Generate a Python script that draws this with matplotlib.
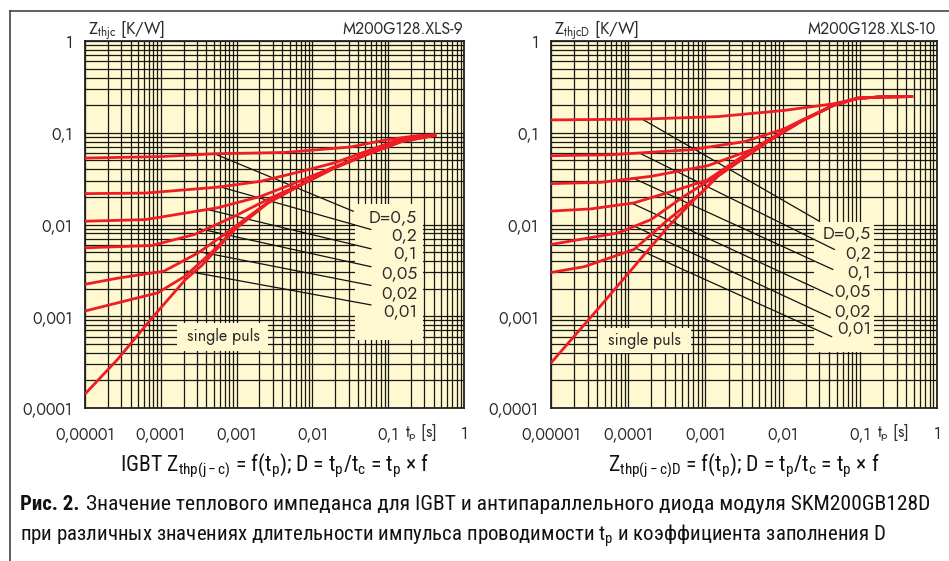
import matplotlib
matplotlib.use('Agg')
import numpy as np
import matplotlib.pyplot as plt
from matplotlib.patches import Rectangle
from matplotlib.lines import Line2D
from matplotlib.ticker import LogLocator, NullFormatter
from matplotlib import font_manager
import matplotlib.transforms as mtrans

# ---------------- data ----------------
x_ticks = [1e-5, 1e-4, 1e-3, 1e-2, 1e-1, 1]
x_tick_labels = ['0,00001', '0,0001', '0,001', '0,01', '0,1', '1']
y_ticks = [1e-4, 1e-3, 1e-2, 1e-1, 1]
y_tick_labels = ['0,0001', '0,001', '0,01', '0,1', '1']
d_labels = ['D=0,5', '0,2', '0,1', '0,05', '0,02', '0,01']

# IGBT (left)
igbt_single_tp = [1e-5, 2.7e-5, 7.6e-5, 2.1e-4, 3.5e-4, 9.4e-4, 2.6e-3, 7.2e-3, 0.0195, 0.052, 0.148, 0.24, 0.43]
igbt_single_z = [1.42e-4, 3.4e-4, 9.5e-4, 0.0025, 0.0036, 0.0088, 0.0172, 0.0272, 0.0413, 0.0577, 0.080, 0.090, 0.094]
igbt_d05_tp = [1e-5, 1e-4, 5.1e-4, 4.3e-3, 0.032, 0.089, 0.24, 0.43]
igbt_d05_z = [0.053, 0.055, 0.059, 0.061, 0.070, 0.083, 0.093, 0.095]
igbt_d02_tp = [1e-5, 6.2e-5, 5.6e-4, 2.1e-3, 7.2e-3, 0.0196, 0.052, 0.148, 0.43]
igbt_d02_z = [0.0217, 0.022, 0.0255, 0.0296, 0.038, 0.047, 0.063, 0.086, 0.095]
igbt_d01_tp = [1e-5, 6.2e-5, 5.6e-4, 2.1e-3, 5.2e-3, 0.0195, 0.052, 0.148, 0.43]
igbt_d01_z = [0.01086, 0.0113, 0.0152, 0.0203, 0.0272, 0.0425, 0.059, 0.082, 0.095]
igbt_d005_tp = [1e-5, 7.6e-5, 2.8e-4, 9.4e-4, 2.9e-3, 7.2e-3, 0.0195, 0.052, 0.148, 0.43]
igbt_d005_z = [0.00557, 0.0059, 0.0078, 0.0123, 0.0197, 0.0276, 0.042, 0.058, 0.081, 0.094]
igbt_d002_tp = [1e-5, 2.7e-5, 1.1e-4, 3.1e-4, 6.9e-4, 2.6e-3, 7.2e-3, 0.0195, 0.052, 0.148, 0.43]
igbt_d002_z = [0.00223, 0.0026, 0.0031, 0.0049, 0.0078, 0.0175, 0.0274, 0.0415, 0.058, 0.080, 0.094]
igbt_d001_tp = [1e-5, 2.7e-5, 9.1e-5, 2.1e-4, 4.7e-4, 9.4e-4, 2.6e-3, 7.2e-3, 0.0195, 0.052, 0.148, 0.43]
igbt_d001_z = [0.00114, 0.0014, 0.0018, 0.00274, 0.0050, 0.0089, 0.0173, 0.0273, 0.0414, 0.0577, 0.080, 0.094]

igbt_lead_x0 = [5.1e-4, 5.7e-4, 4.15e-4, 3.26e-4, 2.95e-4, 2.18e-4]
igbt_lead_y0 = [0.059, 0.0261, 0.01456, 0.00897, 0.00513, 0.00311]
igbt_lead_x1 = [0.0346, 0.0591, 0.0591, 0.0591, 0.0591, 0.0591]
igbt_lead_y1 = [0.01395, 0.00883, 0.00544, 0.00347, 0.00217, 0.00133]

# Diode (right)
diode_single_tp = [1e-5, 4.4e-5, 3.3e-4, 7.2e-4, 1.44e-3, 6.4e-3, 0.0173, 0.046, 0.095, 0.2, 0.49]
diode_single_z = [3.1e-4, 0.0013, 0.0095, 0.0187, 0.0335, 0.080, 0.133, 0.20, 0.238, 0.246, 0.248]
diode_d05_tp = [1e-5, 1.6e-4, 1.46e-3, 0.0104, 0.046, 0.095, 0.2, 0.49]
diode_d05_z = [0.138, 0.141, 0.150, 0.175, 0.207, 0.238, 0.246, 0.248]
diode_d02_tp = [1e-5, 6e-5, 6.5e-4, 3.2e-3, 0.0104, 0.0173, 0.046, 0.095, 0.2, 0.49]
diode_d02_z = [0.0562, 0.0576, 0.0653, 0.080, 0.110, 0.136, 0.20, 0.238, 0.246, 0.248]
diode_d01_tp = [1e-5, 4.4e-5, 1.97e-4, 1.08e-3, 3.9e-3, 0.0104, 0.0173, 0.046, 0.095, 0.2, 0.49]
diode_d01_z = [0.0279, 0.0288, 0.0335, 0.0438, 0.065, 0.105, 0.134, 0.20, 0.238, 0.246, 0.248]
diode_d005_tp = [1e-5, 3.3e-5, 1.19e-4, 4.4e-4, 1.08e-3, 2.6e-3, 6.4e-3, 0.0173, 0.046, 0.095, 0.2, 0.49]
diode_d005_z = [0.014, 0.0148, 0.0172, 0.024, 0.0308, 0.0509, 0.081, 0.133, 0.20, 0.238, 0.246, 0.248]
diode_d002_tp = [1e-5, 7.4e-5, 1.97e-4, 5.3e-4, 1.46e-3, 6.4e-3, 0.0173, 0.046, 0.095, 0.2, 0.49]
diode_d002_z = [0.00606, 0.0081, 0.0113, 0.0203, 0.0349, 0.080, 0.133, 0.20, 0.238, 0.246, 0.248]
diode_d001_tp = [1e-5, 2.7e-5, 1.19e-4, 3.3e-4, 8.8e-4, 1.46e-3, 6.4e-3, 0.0173, 0.046, 0.095, 0.2, 0.49]
diode_d001_z = [0.003, 0.00347, 0.00535, 0.0113, 0.022, 0.034, 0.080, 0.133, 0.20, 0.238, 0.246, 0.248]

diode_lead_x0 = [1.58e-4, 1.39e-4, 1.22e-4, 1.14e-4, 1.2e-4, 1.3e-4]
diode_lead_y0 = [0.138, 0.0602, 0.0314, 0.0169, 0.0096, 0.00544]
diode_lead_x1 = [0.0299, 0.0468, 0.0446, 0.0446, 0.0415, 0.0431]
diode_lead_y1 = [0.01086, 0.00535, 0.00324, 0.00166, 0.00097, 0.0006]

# ---------------- style ----------------
W, H = 949, 561
def fx(px): return px / W
def fy(py): return 1 - py / H

BG = '#FFF8D0'
RED = '#EE1D25'
TXT = '#2a2a2a'
names = {f.name for f in font_manager.fontManager.ttflist}

def pick(cands, default='DejaVu Sans'):
    for c in cands:
        if c in names:
            return c
    return default

FONT = pick(['Jost', 'League Spartan', 'Didact Gothic', 'Lato'])
CFONT = pick(['Roboto Condensed', 'PT Sans Narrow', 'Fira Sans Condensed', 'Open Sans Condensed'])
plt.rcParams['mathtext.fontset'] = 'custom'
plt.rcParams['mathtext.rm'] = CFONT
plt.rcParams['mathtext.it'] = CFONT

fig = plt.figure(figsize=(9.49, 5.61), dpi=100)
fig.patch.set_facecolor('white')
R = fig.canvas.get_renderer()

def fit(t, width_px):
    bb = t.get_window_extent(renderer=R)
    t.set_fontsize(t.get_fontsize() * width_px / bb.width)

def panel(px_left, px_right, series, lead, ylab, code, lab_right, lab_ys, box, sbox, stext):
    ax = fig.add_axes([fx(px_left), fy(408), (px_right - px_left) / W, (408 - 41) / H])
    ax.set_facecolor(BG)
    ax.set_xscale('log'); ax.set_yscale('log')
    ax.set_xlim(1e-5, 1); ax.set_ylim(1e-4, 1)
    ax.set_axisbelow(True)
    for a in (ax.xaxis, ax.yaxis):
        a.set_minor_locator(LogLocator(base=10, subs=np.arange(2, 10), numticks=30))
        a.set_minor_formatter(NullFormatter())
    ax.grid(which='both', color='black', lw=0.9, alpha=0.9)
    ax.set_xticks(x_ticks)
    ax.set_xticklabels(x_tick_labels, fontfamily=FONT, fontsize=11.5, color=TXT)
    ax.set_yticks(y_ticks)
    ax.set_yticklabels(y_tick_labels, fontfamily=FONT, fontsize=11.5, color=TXT)
    ax.tick_params(which='both', length=0)
    ax.tick_params(axis='x', pad=13)
    ax.tick_params(axis='y', pad=9)
    for s in ax.spines.values():
        s.set_linewidth(1.3); s.set_color('#222')
    ax.add_patch(Rectangle((box[0], box[1]), box[2] - box[0], box[3] - box[1],
                           transform=ax.transAxes, facecolor=BG, edgecolor='none', zorder=1.5))
    ax.add_patch(Rectangle((sbox[0], sbox[1]), sbox[2] - sbox[0], sbox[3] - sbox[1],
                           transform=ax.transAxes, facecolor=BG, edgecolor='none', zorder=1.5))
    ax.text(stext[0], stext[1], 'single puls', transform=ax.transAxes, ha='center', va='center',
            fontfamily=FONT, fontsize=11.5, color=TXT, zorder=4)
    for tp, z in series:
        ax.plot(tp, z, color=RED, lw=2.0, solid_capstyle='butt', zorder=3)
    x0, y0, x1, y1 = lead
    for a, b, c, d in zip(x0, y0, x1, y1):
        ax.plot([a, c], [b, d], color='#111', lw=0.9, zorder=2.5)
    for lab, yy in zip(d_labels, lab_ys):
        ax.text(lab_right, yy, lab, transform=ax.transAxes, ha='right', va='center',
                fontfamily=FONT, fontsize=12.5, color=TXT, zorder=4)
    tr = mtrans.blended_transform_factory(ax.transData, ax.transAxes)
    ax.text(0.27, -0.065, r't$_{\mathregular{p}}$ [s]', transform=tr, ha='center', va='center',
            fontfamily=FONT, fontsize=11.5, color=TXT)
    fig.text(fx(px_left + 3), fy(30), ylab, ha='left', va='center', fontfamily=FONT, fontsize=12, color=TXT)
    fig.text(fx(px_right - 1), fy(30), code, ha='right', va='center', fontfamily=FONT, fontsize=11.5, color=TXT)
    return ax

igbt_series = [(igbt_single_tp, igbt_single_z), (igbt_d05_tp, igbt_d05_z), (igbt_d02_tp, igbt_d02_z),
               (igbt_d01_tp, igbt_d01_z), (igbt_d005_tp, igbt_d005_z), (igbt_d002_tp, igbt_d002_z),
               (igbt_d001_tp, igbt_d001_z)]
diode_series = [(diode_single_tp, diode_single_z), (diode_d05_tp, diode_d05_z), (diode_d02_tp, diode_d02_z),
                (diode_d01_tp, diode_d01_z), (diode_d005_tp, diode_d005_z), (diode_d002_tp, diode_d002_z),
                (diode_d001_tp, diode_d001_z)]

panel(85, 464, igbt_series, (igbt_lead_x0, igbt_lead_y0, igbt_lead_x1, igbt_lead_y1),
      r'Z$_{\mathregular{thjc}}$ [K/W]', 'M200G128.XLS-9',
      0.876, [0.520, 0.469, 0.420, 0.365, 0.313, 0.264],
      (0.712, 0.185, 0.892, 0.556), (0.243, 0.155, 0.483, 0.232), (0.366, 0.196))
panel(551, 937, diode_series, (diode_lead_x0, diode_lead_y0, diode_lead_x1, diode_lead_y1),
      r'Z$_{\mathregular{thjcD}}$ [K/W]', 'M200G128.XLS-10',
      0.829, [0.474, 0.422, 0.368, 0.316, 0.264, 0.215],
      (0.681, 0.153, 0.837, 0.507), (0.121, 0.151, 0.363, 0.217), (0.243, 0.185))

# frame lines
fig.add_artist(Line2D([fx(10), 1.0], [fy(11), fy(11)], color='#444', lw=1.2))
fig.add_artist(Line2D([fx(10), fx(10)], [fy(11), 0.0], color='#444', lw=1.2))

# formulas
f1 = r'IGBT Z$_{\mathregular{thp(j-c)}}$ = f(t$_{\mathregular{p}}$); D = t$_{\mathregular{p}}$/t$_{\mathregular{c}}$ = t$_{\mathregular{p}}$ × f'
f2 = r'Z$_{\mathregular{thp(j-c)D}}$ = f(t$_{\mathregular{p}}$); D = t$_{\mathregular{p}}$/t$_{\mathregular{c}}$ = t$_{\mathregular{p}}$ × f'
t1 = fig.text(fx(275), fy(466), f1, ha='center', va='center', fontfamily=CFONT, fontsize=14, color='#111')
t2 = fig.text(fx(744), fy(466), f2, ha='center', va='center', fontfamily=CFONT, fontsize=14, color='#111')
fit(t1, 310)
fit(t2, 272)

# caption
t_c2 = fig.text(fx(20), fy(536),
                r'при различных значениях длительности импульса проводимости t$_{\mathregular{p}}$ и коэффициента заполнения D',
                ha='left', va='center', fontfamily=CFONT, fontsize=14.5, color='#111')
fit(t_c2, 865)
cs = t_c2.get_fontsize()
t_bold = fig.text(fx(20), fy(504), 'Рис. 2.', ha='left', va='center', fontfamily=CFONT,
                  fontweight='bold', fontsize=cs, color='#111')
bb = t_bold.get_window_extent(renderer=R)
t_c1 = fig.text((bb.x1 + 6) / W, fy(504),
                'Значение теплового импеданса для IGBT и антипараллельного диода модуля SKM200GB128D',
                ha='left', va='center', fontfamily=CFONT, fontsize=cs, color='#111')
fit(t_c1, 930 - bb.x1 - 6)

fig.savefig('out.png', dpi=100, facecolor='white')
